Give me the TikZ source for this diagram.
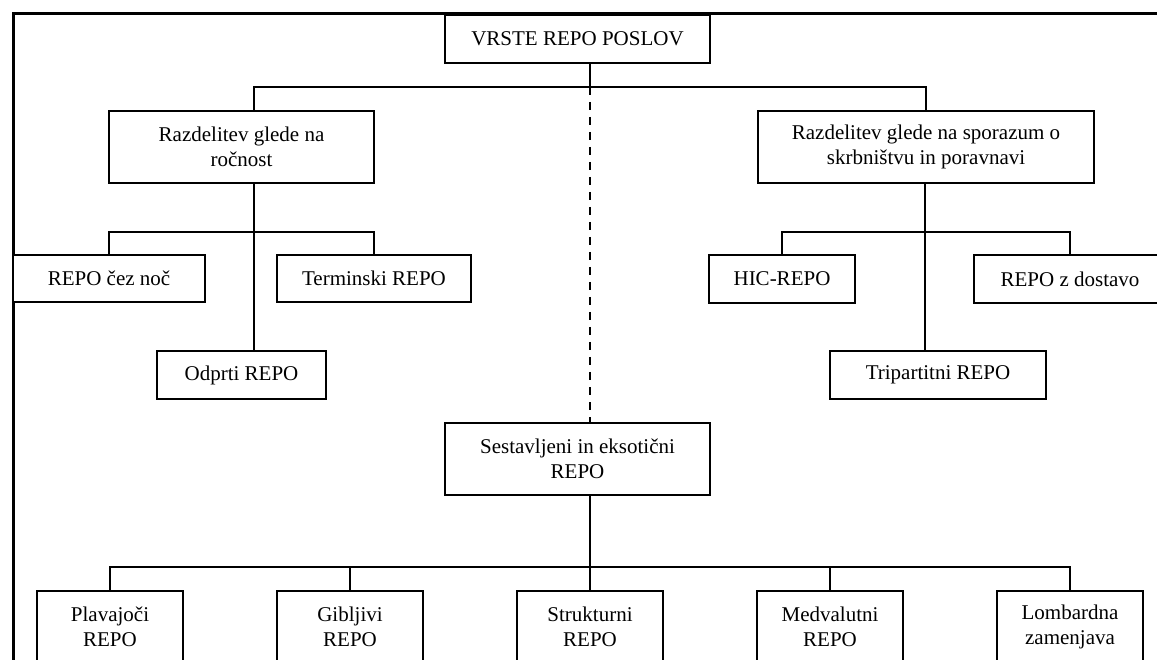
\documentclass[tikz,border=0pt]{standalone}
\usepackage{fontspec}
\setmainfont{Liberation Serif}
\begin{document}
\begin{tikzpicture}[x=1pt,y=-1pt,
  box/.style={draw, line width=1.8pt, fill=white, rectangle, inner sep=0pt, align=center,
              font=\fontsize{21}{25.5}\selectfont},
  conn/.style={line width=1.8pt},
  dconn/.style={line width=1.8pt, dash pattern=on 8pt off 7pt}]
\useasboundingbox (0,0) rectangle (1157,660);
\clip (0,0) rectangle (1157,660);
\draw[line width=3.3pt] (13.3,13.3) rectangle (1190,700);

% nodes
\node[box, minimum width=265pt, minimum height=48pt] (top) at (577.5,39) {VRSTE REPO POSLOV};
\node[box, minimum width=265pt, minimum height=72pt] (rl) at (241.5,147) {Razdelitev glede na\\ročnost};
\node[box, minimum width=336pt, minimum height=72pt] (rr) at (926,147) {Razdelitev glede na sporazum o\\skrbništvu in poravnavi};
\node[box, minimum width=192pt, minimum height=47pt] (noc) at (109,278.5) {REPO čez noč};
\node[box, minimum width=194pt, minimum height=47pt] (term) at (374,278.5) {Terminski REPO};
\node[box, minimum width=169pt, minimum height=48pt] (odp) at (241.5,375) {Odprti REPO};
\node[box, minimum width=146pt, minimum height=48pt] (hic) at (782,279) {HIC-REPO};
\node[box, minimum width=192pt, minimum height=48pt] (dost) at (1070,279) {REPO z dostavo};
\node[box, minimum width=216pt, minimum height=48pt] (tri) at (938,375) {Tripartitni REPO};
\node[box, minimum width=265pt, minimum height=72pt] (ses) at (577.5,459) {Sestavljeni in eksotični\\REPO};
\node[box, minimum width=146pt, minimum height=72pt] (b1) at (110,627) {Plavajoči\\REPO};
\node[box, minimum width=146pt, minimum height=72pt] (b2) at (350,627) {Gibljivi\\REPO};
\node[box, minimum width=146pt, minimum height=72pt] (b3) at (590,627) {Strukturni\\REPO};
\node[box, minimum width=146pt, minimum height=72pt] (b4) at (830,627) {Medvalutni\\REPO};
\node[box, minimum width=146pt, minimum height=72pt] (b5) at (1070,627) {Lombardna\\zamenjava};

% junction coordinates
\coordinate (j0) at (590,87);
\coordinate (jl) at (254,87);
\coordinate (jr) at (926,87);
\coordinate (kl) at (254,232);
\coordinate (kr) at (925,232);
\coordinate (kb) at (590,567);

% connectors
\draw[conn] (top.south -| j0) -- (j0);
\draw[conn] (rl.north -| jl) -- (jl) -- (jr) -- (rr.north -| jr);
\draw[dconn] (j0) -- (ses.north -| j0);

\draw[conn] (rl.south -| kl) -- (odp.north -| kl);
\draw[conn] (noc.north) -- (noc.north |- kl) -- (term.north |- kl) -- (term.north);

\draw[conn] (rr.south -| kr) -- (tri.north -| kr);
\draw[conn] (hic.north) -- (hic.north |- kr) -- (dost.north |- kr) -- (dost.north);

\draw[conn] (ses.south -| kb) -- (kb);
\draw[conn] (b1.north) -- (b1.north |- kb) -- (b5.north |- kb) -- (b5.north);
\draw[conn] (b2.north) -- (b2.north |- kb);
\draw[conn] (b3.north) -- (b3.north |- kb);
\draw[conn] (b4.north) -- (b4.north |- kb);
\end{tikzpicture}
\end{document}
